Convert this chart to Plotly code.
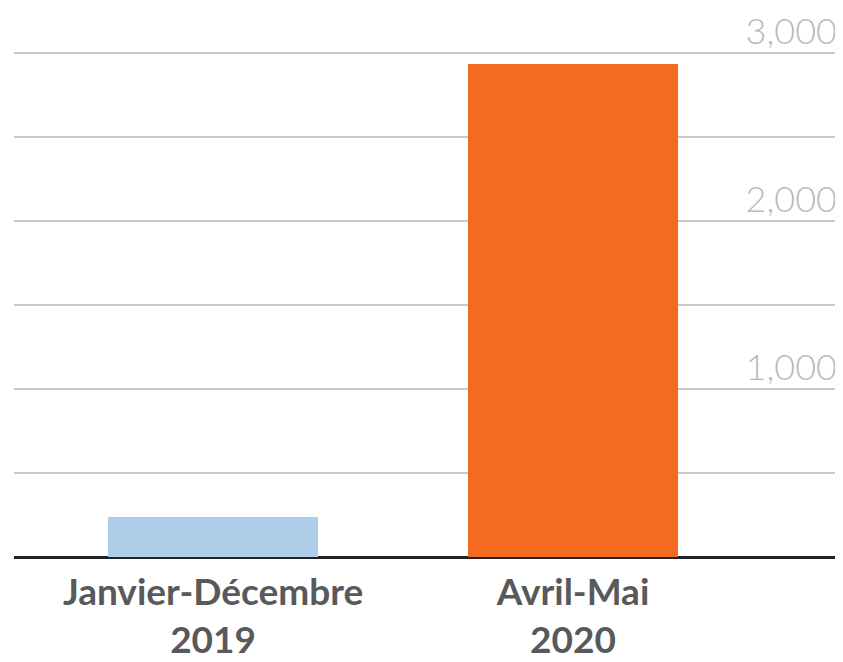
import plotly.graph_objects as go

categories = ["Janvier-Décembre<br>2019", "Avril-Mai<br>2020"]
values = [235, 2930]
bar_colors = ["#aecde9", "#f26b21"]
y_ticks = [1000, 2000, 3000]
y_ticktext = ["1,000", "2,000", "3,000"]

fig = go.Figure(go.Bar(
    x=[0, 1], y=values, marker=dict(color=bar_colors, line=dict(width=0)),
    width=0.583,
))

fig.update_layout(
    width=835, height=654,
    margin=dict(l=6, r=0, t=11, b=105, autoexpand=False),
    paper_bgcolor="white", plot_bgcolor="white",
    showlegend=False,
    font=dict(family="Lato"),
    bargap=0,
)
fig.update_xaxes(
    range=[-0.553, 1.75],
    tickvals=[0, 1],
    ticktext=["<b>" + c.replace("<br>", "</b><br><b>") + "</b>" for c in categories],
    tickfont=dict(family="Lato", size=37, color="#58595b"),
    ticklabelstandoff=10,
    automargin=False,
    showgrid=False, zeroline=False, showline=False, ticks="",
)
fig.update_yaxes(
    range=[0, 3200],
    side="right",
    tickvals=y_ticks, ticktext=y_ticktext,
    ticklabelposition="inside top",
    ticklabeloverflow="allow",
    tickfont=dict(family="Lato", size=36, color="#b9b9bd", weight=300),
    ticklabelstandoff=3,
    ticklabelshift=4,
    automargin=False,
    showgrid=True, gridcolor="#cacaca", gridwidth=1.5,
    minor=dict(dtick=500, tick0=0, showgrid=True, gridcolor="#cacaca", gridwidth=1.5),
    zeroline=True, zerolinecolor="#222226", zerolinewidth=2.5,
    ticks="", showline=False,
)

fig.write_html("out.html")
